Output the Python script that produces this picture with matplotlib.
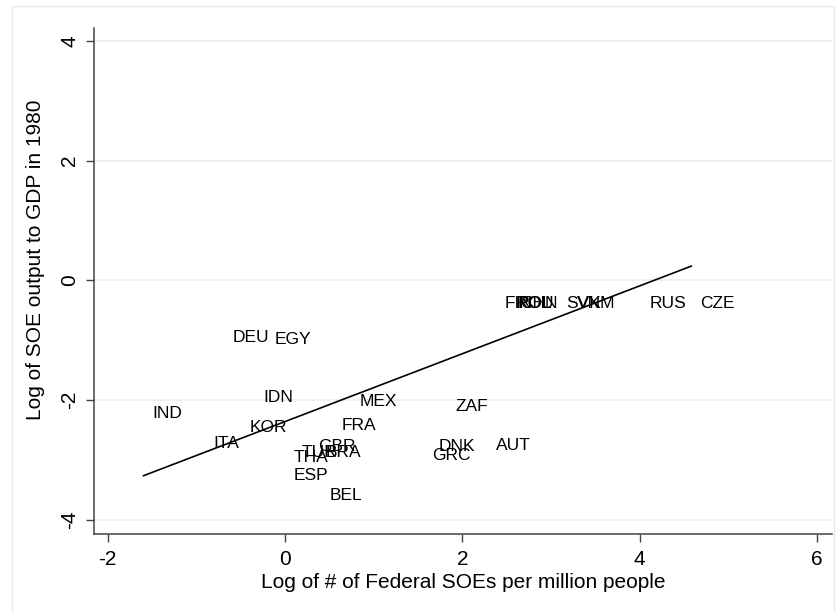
import matplotlib
matplotlib.use("Agg")
import matplotlib.pyplot as plt
import numpy as np
from matplotlib.patches import Rectangle

# Data: country codes and their coordinates
countries = ["IND", "ITA", "KOR", "IDN", "DEU", "EGY", "MEX", "FRA", "GBR",
             "THA", "TUR", "BRA", "ESP", "BEL", "ZAF", "DNK", "GRC", "AUT",
             "FIN", "ROU", "POL", "CHN", "SVK", "VNM", "RUS", "CZE"]
log_soes = [-1.595, -0.908, -0.490, -0.344, -0.682, -0.209, 0.750, 0.547, 0.276,
            0.006, 0.097, 0.367, 0.006, 0.411, 1.832, 1.640, 1.561, 2.283,
            2.384, 2.508, 2.531, 2.554, 3.073, 3.197, 4.019, 4.583]
log_output = [-2.22, -2.72, -2.45, -1.95, -0.95, -0.98, -2.03, -2.43, -2.77,
              -2.95, -2.87, -2.87, -3.25, -3.60, -2.10, -2.78, -2.92, -2.75,
              -0.38, -0.38, -0.38, -0.38, -0.38, -0.38, -0.38, -0.38]

# Linear fit coefficients
fit_slope = 0.5665
fit_intercept = -2.358

x_ticks = [-2, 0, 2, 4, 6]
y_ticks = [-4, -2, 0, 2, 4]

plt.rcParams['font.family'] = ['Liberation Sans', 'DejaVu Sans']

W, H = 840, 613
fig = plt.figure(figsize=(W / 100, H / 100), dpi=100)
fig.patch.set_facecolor('white')
fig.patches.append(Rectangle((12 / W, 1 - 625 / H), (834 - 12) / W, (625 - 6) / H,
                             transform=fig.transFigure, fill=False,
                             edgecolor='#e3ecee', linewidth=1.0))

ax = fig.add_axes([94.3 / W, 1 - 534.3 / H, (832 - 94.3) / W, (534.3 - 27.7) / H])
ax.set_xlim(-2.15, 6.17)
ax.set_ylim(-4.24, 4.22)

for yt in y_ticks:
    ax.axhline(yt, color='#e8f0f2', linewidth=1.2, zorder=0)

# labels used as markers (placed to the right of each point)
pt_off = 8.5 / 88.7
for c, xv, yv in zip(countries, log_soes, log_output):
    ax.text(xv + pt_off, yv, c, fontsize=12.5, ha='left', va='center',
            color='black')

xs = np.array([min(log_soes), max(log_soes)])
ax.plot(xs, fit_intercept + fit_slope * xs, color='black', linewidth=1.2)

ax.set_xticks(x_ticks)
ax.set_yticks(y_ticks)
ax.set_xticklabels([str(t) for t in x_ticks], fontsize=15)
ax.set_yticklabels([str(t) for t in y_ticks], fontsize=15, rotation=90,
                   va='center')
ax.tick_params(axis='both', direction='out', length=6, width=1.0,
               color='#444444', pad=5)
for s in ['top', 'right']:
    ax.spines[s].set_visible(False)
for s in ['left', 'bottom']:
    ax.spines[s].set_color('#444444')
    ax.spines[s].set_linewidth(1.1)

ax.set_xlabel("Log of # of Federal SOEs per million people", fontsize=15,
              labelpad=3)
ax.set_ylabel("Log of SOE output to GDP in 1980", fontsize=15)
ax.yaxis.set_label_coords((45 - 94.3) / (832 - 94.3), (534.3 - 260) / (534.3 - 27.7))

fig.savefig("out.png", dpi=100, facecolor='white')
